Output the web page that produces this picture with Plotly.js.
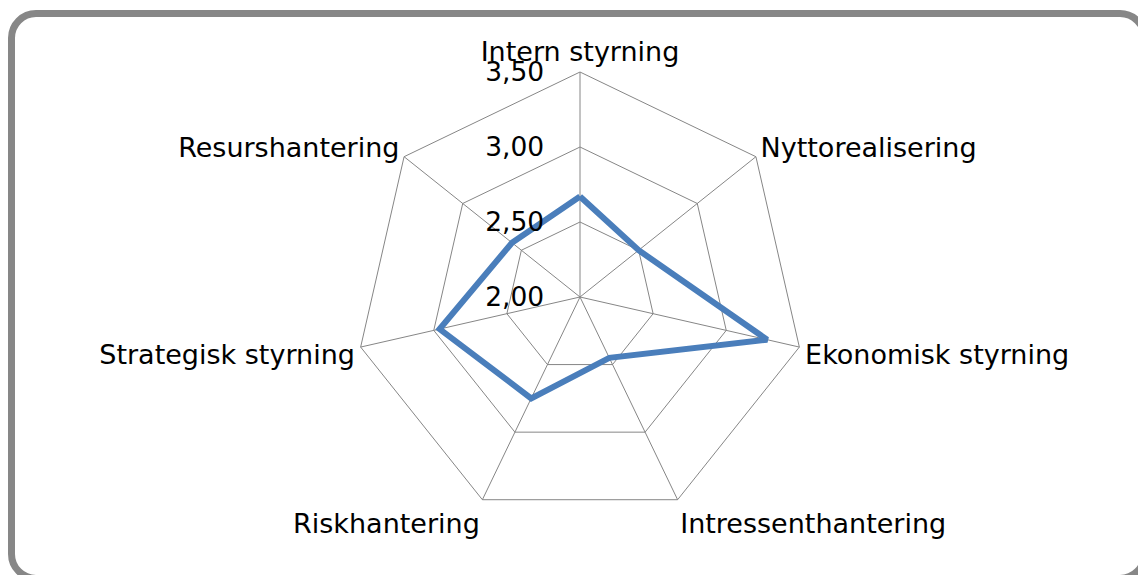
<!DOCTYPE html>
<html>
<head>
<meta charset="utf-8">
<script src="https://cdn.plot.ly/plotly-3.0.1.min.js"></script>
<style>
  html, body { margin: 0; padding: 0; background: #ffffff; }
  #wrap { position: relative; width: 1138px; height: 575px; overflow: hidden; }
  #chart { position: absolute; left: 0; top: 0; width: 1138px; height: 575px; }
  #frame { position: absolute; left: 8px; top: 10px; width: 1140px; height: 572px;
           border: 7px solid #878787; border-radius: 28px; box-sizing: border-box; pointer-events: none; }
</style>
</head>
<body>
<div id="wrap">
  <div id="chart"></div>
  <div id="frame"></div>
</div>
<script>
const categories = ["Intern styrning", "Nyttorealisering", "Ekonomisk styrning",
  "Intressenthantering", "Riskhantering", "Strategisk styrning", "Resurshantering"];
const values = [2.67, 2.50, 3.28, 2.45, 2.75, 2.96, 2.58];
const tickVals = [2.0, 2.5, 3.0, 3.5];
const tickLabels = ["2,00", "2,50", "3,00", "3,50"];

const trace = {
  type: "scatterpolar",
  mode: "lines",
  r: values.concat([values[0]]),
  theta: categories.concat([categories[0]]),
  line: { color: "#4a7ebb", width: 6 },
  hoverinfo: "skip"
};

const layout = {
  width: 1138, height: 575,
  margin: { l: 0, r: 0, t: 0, b: 0 },
  paper_bgcolor: "#ffffff",
  showlegend: false,
  font: { family: "DejaVu Sans, Verdana, sans-serif", size: 27, color: "#000000" },
  polar: {
    domain: { x: [355/1138, 805/1138], y: [53/575, 503/575] },
    bgcolor: "#ffffff",
    gridshape: "linear",
    radialaxis: {
      range: [2.0, 3.5],
      tickvals: tickVals,
      ticktext: tickLabels,
      angle: 90,
      tickangle: 90,
      side: "counterclockwise",
      showline: false,
      ticks: "outside",
      ticklen: 26,
      tickcolor: "rgba(0,0,0,0)",
      gridcolor: "#868686",
      gridwidth: 1,
      tickfont: { size: 26.5 }
    },
    angularaxis: {
      direction: "clockwise",
      rotation: 90,
      showline: true,
      linecolor: "#868686",
      linewidth: 1,
      gridcolor: "#868686",
      gridwidth: 1,
      ticks: "",
      tickfont: { size: 27 }
    }
  }
};

Plotly.newPlot("chart", [trace], layout, { displayModeBar: false, staticPlot: true });
</script>
</body>
</html>
